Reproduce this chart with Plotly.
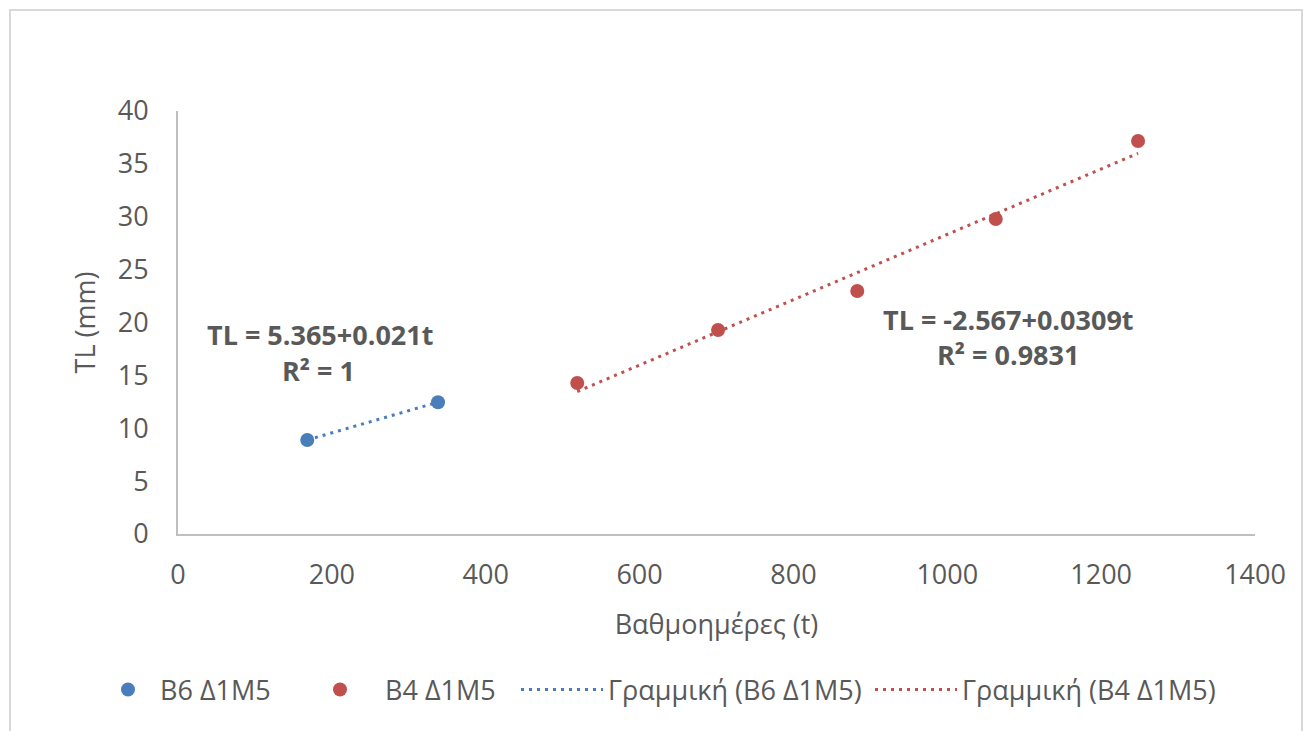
import plotly.graph_objects as go

# Data
b6_x = [168, 338]
b6_y = [8.89, 12.46]
b4_x = [519, 702, 883, 1063, 1248]
b4_y = [14.28, 19.29, 22.98, 29.79, 37.16]

b6_fit = [5.365, 0.021]     # intercept, slope
b4_fit = [-2.567, 0.0309]

names = ["B6 Δ1M5", "B4 Δ1M5", "Γραμμική (B6 Δ1M5)", "Γραμμική (B4 Δ1M5)"]
eq_labels = ["TL = 5.365+0.021t", "R² = 1", "TL = -2.567+0.0309t", "R² = 0.9831"]

x_title = "Βαθμοημέρες (t)"
y_title = "TL (mm)"

BLUE = "#4A7EBB"
RED = "#C0504D"
TXT = "#595959"
FONT = "Open Sans"
FS = 27

PL, PR, PT, PB = 178, 1255, 111, 534
PW, PH = PR - PL, PB - PT

def px_x(p):
    return (p - PL) / PW

def px_y(p):
    return (PB - p) / PH

def fit_line(xs, coef):
    xr = [min(xs), max(xs)]
    return xr, [coef[0] + coef[1] * v for v in xr]

fig = go.Figure()
fig.add_trace(go.Scatter(x=b6_x, y=b6_y, mode="markers", name=names[0], legend="legend",
                         marker=dict(color=BLUE, size=14)))
fig.add_trace(go.Scatter(x=b4_x, y=b4_y, mode="markers", name=names[1], legend="legend2",
                         marker=dict(color=RED, size=14)))
lx, ly = fit_line(b6_x, b6_fit)
fig.add_trace(go.Scatter(x=lx, y=ly, mode="lines", name=names[2], legend="legend3",
                         line=dict(color=BLUE, width=3, dash="3px,5px")))
lx, ly = fit_line(b4_x, b4_fit)
fig.add_trace(go.Scatter(x=lx, y=ly, mode="lines", name=names[3], legend="legend4",
                         line=dict(color=RED, width=3, dash="3px,5px")))

ann_pos = [(184.6, 18.82), (182, 15.5), (1080, 20.24), (1079, 16.93)]
for (ax, ay), t in zip(ann_pos, eq_labels):
    fig.add_annotation(x=ax, y=ay, xref="x", yref="y", text="<b>" + t + "</b>",
                       showarrow=False, font=dict(family=FONT, size=FS, color=TXT))

def leg(text_start, iw):
    return dict(orientation="h", x=px_x(text_start - iw - 10), xanchor="left",
                itemwidth=iw,
                y=px_y(690), yanchor="middle", bgcolor="rgba(0,0,0,0)",
                font=dict(family=FONT, size=FS, color=TXT))

fig.update_layout(
    width=1308, height=731,
    margin=dict(l=PL, r=1308 - PR, t=PT, b=731 - PB),
    paper_bgcolor="white", plot_bgcolor="white",
    font=dict(family=FONT, size=FS, color=TXT),
    showlegend=True,
    legend=leg(160, 54), legend2=leg(385, 80), legend3=leg(608, 82), legend4=leg(962, 82),
    xaxis=dict(range=[0, 1400], dtick=200, showgrid=False, zeroline=False,
               showline=True, linecolor="#BFBFBF", linewidth=2,
               ticks="", ticklabelstandoff=16,
               title=dict(text=x_title, standoff=24, font=dict(size=FS, color=TXT))),
    yaxis=dict(range=[0, 40], dtick=5, showgrid=False, zeroline=False,
               showline=True, linecolor="#BFBFBF", linewidth=2,
               ticks="", ticklabelstandoff=22,
               title=dict(text=y_title, standoff=14, font=dict(size=FS, color=TXT))),
    shapes=[dict(type="rect", xref="paper", yref="paper",
                 x0=px_x(10), x1=px_x(1302),
                 y0=px_y(745), y1=px_y(10),
                 line=dict(color="#D9D9D9", width=2), fillcolor="rgba(0,0,0,0)",
                 layer="below")],
)

fig.write_html("out.html")
